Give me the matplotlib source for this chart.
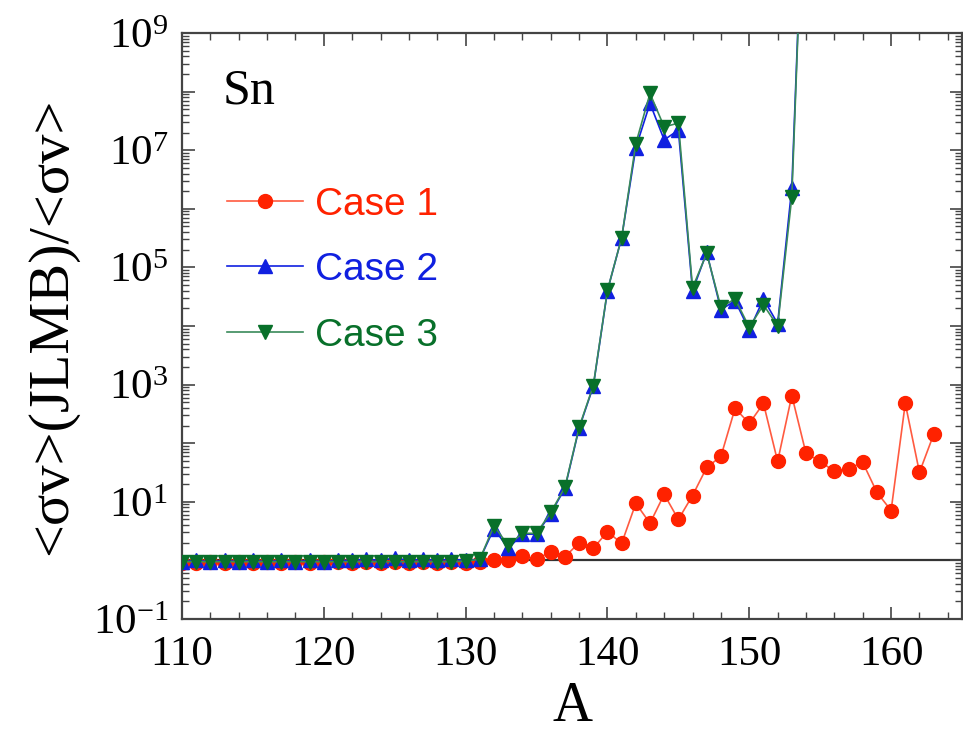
import matplotlib
matplotlib.use("Agg")
import math
import matplotlib.pyplot as plt
from matplotlib.ticker import FixedLocator, MultipleLocator, FuncFormatter, LogLocator, NullFormatter

plt.rcParams['font.family'] = ['Liberation Serif', 'DejaVu Serif']
plt.rcParams['mathtext.fontset'] = 'custom'
plt.rcParams['mathtext.rm'] = 'Liberation Serif'
plt.rcParams['mathtext.it'] = 'Liberation Serif:italic'

# ---- data ----
A_case1 = [110, 111, 112, 113, 114, 115, 116, 117, 118, 119, 120, 121, 122, 123, 124,
           125, 126, 127, 128, 129, 130, 131, 132, 133, 134, 135, 136, 137, 138, 139,
           140, 141, 142, 143, 144, 145, 146, 147, 148, 149, 150, 151, 152, 153, 154,
           155, 156, 157, 158, 159, 160, 161, 162, 163]
case1 = [0.92, 0.92, 0.93, 0.92, 0.93, 0.92, 0.93, 0.92, 0.93, 0.92, 0.93, 0.93, 0.92, 0.93, 0.92,
         0.93, 0.92, 0.93, 0.92, 0.93, 0.92, 0.93, 1.0, 1.0, 1.2, 1.05, 1.4, 1.15, 2.0, 1.6,
         3.1, 1.95, 9.4, 4.3, 13.4, 5.0, 12.8, 38.6, 59.5, 394, 217, 478, 49, 650, 67,
         49, 33, 37, 47, 14.5, 7.1, 478, 31.8, 141]

A_case23 = [110, 111, 112, 113, 114, 115, 116, 117, 118, 119, 120, 121, 122, 123, 124,
            125, 126, 127, 128, 129, 130, 131, 132, 133, 134, 135, 136, 137, 138, 139,
            140, 141, 142, 143, 144, 145, 146, 147, 148, 149, 150, 151, 152, 153, 154]
case2 = [0.95, 1.0, 0.95, 1.0, 0.95, 1.0, 0.95, 1.0, 0.95, 1.0, 0.95, 1.0, 1.0, 1.05, 1.0,
         1.1, 1.0, 1.05, 1.0, 1.05, 1.0, 1.05, 3.5, 1.6, 2.8, 2.8, 6.3, 17.0, 180, 930,
         40000, 3.2e5, 1.1e7, 6.3e7, 1.5e7, 2.2e7, 4.0e4, 1.8e5, 1.9e4, 2.7e4, 8.5e3, 2.9e4, 1.1e4, 2.3e6, 5e12]
case3 = [0.95, 0.95, 0.95, 0.95, 0.95, 0.95, 0.95, 0.95, 0.95, 0.95, 0.95, 0.95, 0.95, 0.95, 0.95,
         0.95, 0.95, 0.95, 0.95, 0.95, 0.97, 1.05, 3.9, 1.8, 2.9, 2.9, 6.6, 17.6, 186, 960,
         40700, 3.2e5, 1.3e7, 9.3e7, 2.5e7, 2.9e7, 4.5e4, 1.74e5, 2.1e4, 2.9e4, 9.5e3, 2.3e4, 1.0e4, 1.6e6, 5e12]

labels = ['Case 1', 'Case 2', 'Case 3']

# ---- figure ----
fig = plt.figure(figsize=(9.63, 7.31), dpi=100)
ax = fig.add_axes([182/963, 1 - 619/731, 780/963, 586/731])

red_m = '#ff2200'
red_l = '#ff5a40'
blue = '#1020e0'
green = '#08702a'
green_l = '#3a8a5a'

ax.axhline(1.0, color='#333333', lw=1.6, zorder=1)
ax.plot(A_case1, case1, '-o', color=red_l, mfc=red_m, mec=red_m, ms=10, lw=1.2, label=labels[0], zorder=2)
ax.plot(A_case23, case2, '-^', color=blue, mfc=blue, mec=blue, ms=10.5, lw=1.2, label=labels[1], zorder=3)
ax.plot(A_case23, case3, '-v', color=green_l, mfc=green, mec=green, ms=10.5, lw=1.2, label=labels[2], zorder=4)

ax.set_yscale('log')
ax.set_xlim(110, 165)
ax.set_ylim(1e-1, 1e9)

ax.xaxis.set_major_locator(MultipleLocator(10))
ax.xaxis.set_minor_locator(MultipleLocator(2))
ax.yaxis.set_major_locator(FixedLocator([10.0**e for e in range(-1, 10)]))
ax.yaxis.set_minor_locator(LogLocator(base=10, subs=range(2, 10), numticks=100))
ax.yaxis.set_minor_formatter(NullFormatter())

def yfmt(v, pos):
    e = int(round(math.log10(v)))
    if e % 2 == 0:
        return ''
    return r'$\mathdefault{10^{%d}}$' % e
ax.yaxis.set_major_formatter(FuncFormatter(yfmt))

ax.tick_params(which='both', direction='in', top=True, right=True, colors='#444444', labelcolor='black')
ax.tick_params(which='major', length=9, width=1.2, labelsize=31)
ax.tick_params(which='minor', length=5, width=1.0)
ax.tick_params(axis='x', pad=12)
ax.tick_params(axis='y', pad=10)
for s in ax.spines.values():
    s.set_color('#444444')
    s.set_linewidth(1.6)

ax.set_xlabel('A', fontsize=40)
ax.xaxis.set_label_coords(0.5, -0.105)
ax.set_ylabel('<σv>(JLMB)/<σv>', fontsize=42)
ax.yaxis.set_label_coords(-0.133, 0.5)

ax.text(223/963, 1 - 103/731, 'Sn', transform=fig.transFigure, fontsize=36, ha='left', va='baseline')

leg = ax.legend(loc='upper left', bbox_to_anchor=(0.058, 0.738), frameon=False,
                prop={'family': ['Liberation Sans', 'DejaVu Sans'], 'size': 28},
                handlelength=1.95, handletextpad=0.3, labelspacing=0.76, borderpad=0, borderaxespad=0)
for t, c in zip(leg.get_texts(), [red_m, blue, green]):
    t.set_color(c)

fig.savefig('out.png', dpi=100)
